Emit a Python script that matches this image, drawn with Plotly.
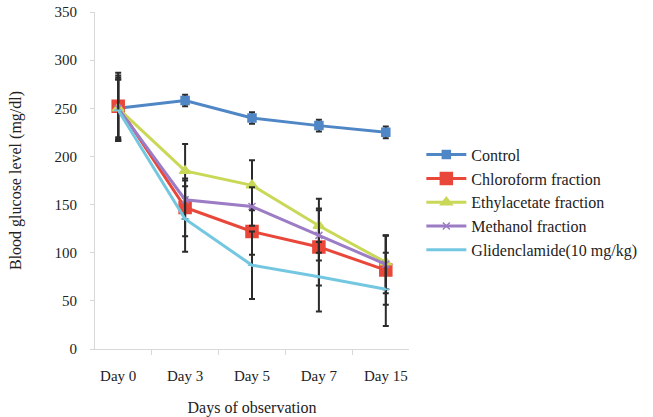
import plotly.graph_objects as go

# days and group means (mg/dl)
days = ['Day 0', 'Day 3', 'Day 5', 'Day 7', 'Day 15']
control = [250, 258, 240, 232, 225]
chloroform = [252, 147, 122, 106, 82]
ethylacetate = [250, 185, 170, 128, 90]
methanol = [250, 155, 148, 118, 88]
glidenclamide = [248, 135, 87, 75, 62]

# error bar half-widths
control_err = [32, 6, 6, 6, 6]
chloroform_err = [35, 30, 24, 40, 36]
ethylacetate_err = [34, 28, 26, 28, 28]
methanol_err = [30, 20, 20, 26, 30]
glidenclamide_err = [32, 34, 35, 36, 38]

series = [
    ('Control', control, control_err, '#4f86c6', 'square', 8),
    ('Chloroform fraction', chloroform, chloroform_err, '#e8473a', 'square', 12),
    ('Ethylacetate fraction', ethylacetate, ethylacetate_err, '#c9d857', 'triangle-up', 10),
    ('Methanol fraction', methanol, methanol_err, '#9c7cc4', 'x-thin-open', 7),
    ('Glidenclamide(10 mg/kg)', glidenclamide, glidenclamide_err, '#74c7e0', 'line-ew-open', 6),
]

fig = go.Figure()
for name, vals, err, col, sym, size in series:
    fig.add_trace(go.Scatter(
        x=days, y=vals, name=name, mode='lines+markers',
        line=dict(color=col, width=3),
        marker=dict(symbol=sym, size=size, color=col, line=dict(color=col, width=1.5)),
        error_y=dict(type='data', array=err, visible=True,
                     color='#2b2b2b', thickness=2, width=3),
    ))

serif = 'Liberation Serif, DejaVu Serif, serif'
fig.update_layout(
    width=653, height=417,
    paper_bgcolor='white', plot_bgcolor='white',
    margin=dict(l=95, r=243, t=12, b=68),
    font=dict(family=serif, size=14, color='#222'),
    legend=dict(x=1.036, y=0.627, xanchor='left', yanchor='top',
                font=dict(size=16), tracegroupgap=1, itemwidth=40),
    showlegend=True,
)
fig.update_xaxes(
    type='category', showline=True, linecolor='#d8d8d8', linewidth=1,
    ticks='outside', tickson='boundaries', ticklen=5, tickcolor='#d8d8d8',
    showgrid=False, ticklabelstandoff=13, automargin=False,
    tickfont=dict(family=serif, size=15),
    title=dict(text='Days of observation', font=dict(family=serif, size=16), standoff=19),
)
fig.update_yaxes(
    range=[0, 350], dtick=50, showline=True, linecolor='#d8d8d8', linewidth=1,
    ticks='outside', ticklen=4, tickcolor='#d8d8d8', showgrid=False,
    ticklabelstandoff=10, zeroline=False, automargin=False,
    ticklabeloverflow='allow',
    tickfont=dict(family=serif, size=15),
    title=dict(text='Blood glucose level (mg/dl)', font=dict(family=serif, size=16), standoff=28),
)

# drop the default page margin so the figure sits at the window's corner
fig.write_html('out.html', config={'displayModeBar': False},
               post_script="document.body.style.margin='0';")
